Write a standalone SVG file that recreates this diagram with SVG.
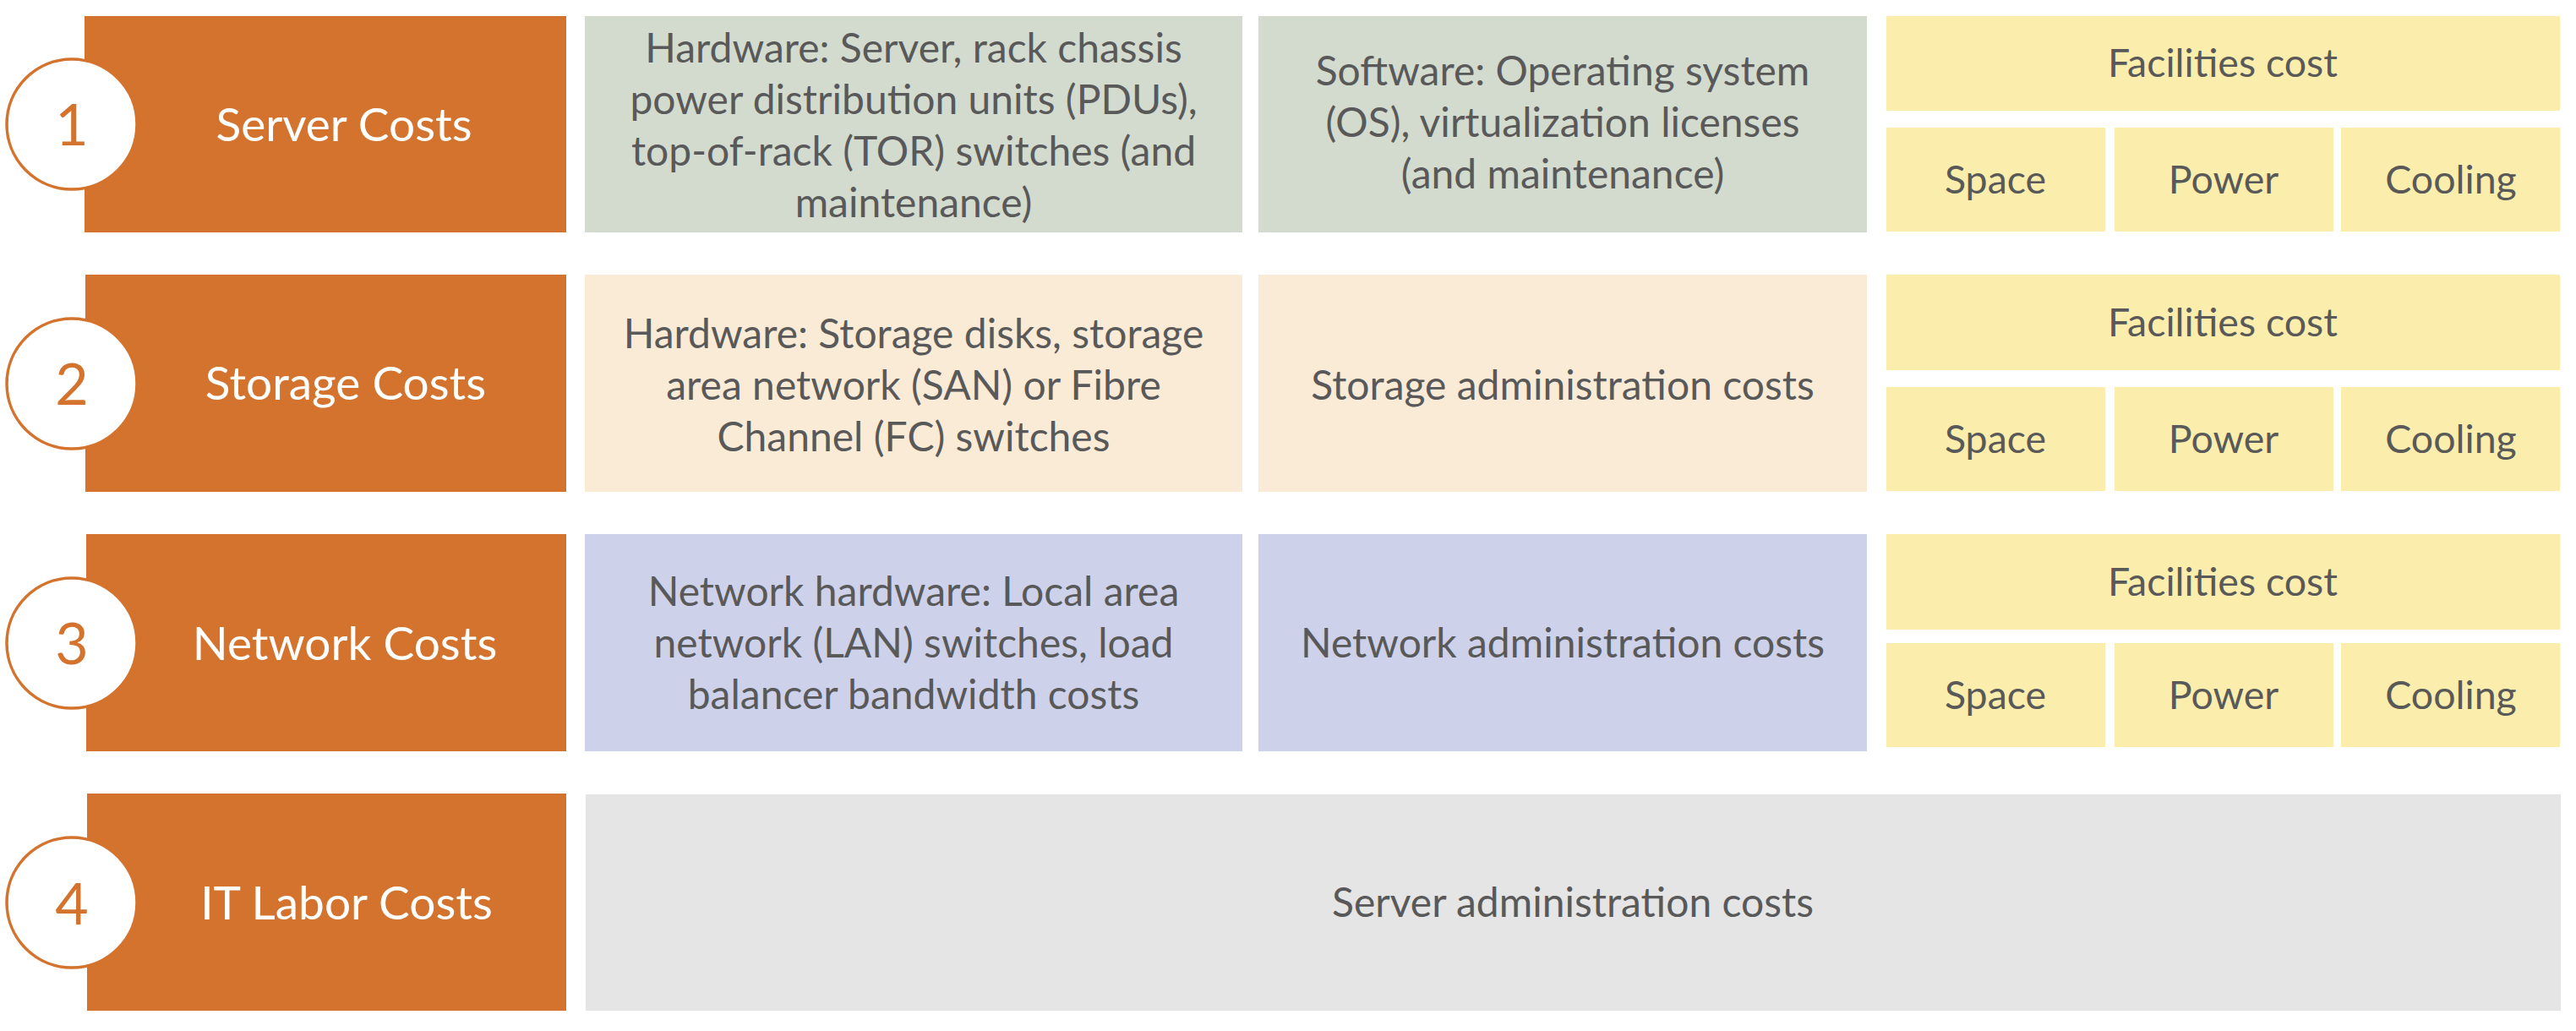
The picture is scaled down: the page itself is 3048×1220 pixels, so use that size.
<svg xmlns="http://www.w3.org/2000/svg" width="3048" height="1220" viewBox="0 0 3048 1220">
  <style>
    .cat { fill: #D4732D; }
    .badge { fill: #FFFFFF; stroke: #D4732D; stroke-width: 3.5; }
    .num { font-family: Lato, "Open Sans", sans-serif; font-size: 68px; fill: #D4732D; text-anchor: middle; }
    .label { font-family: Lato, "Open Sans", sans-serif; font-size: 55px; fill: #FFFFFF; text-anchor: middle; }
    .txt { font-family: Lato, "Open Sans", sans-serif; font-size: 48px; fill: #595959; text-anchor: middle; }
    .fac { font-family: Lato, "Open Sans", sans-serif; font-size: 46.5px; fill: #595959; text-anchor: middle; }
    .green { fill: #D3DBCF; }
    .peach { fill: #FAEBD7; }
    .lav { fill: #CDD2EA; }
    .yellow { fill: #FBEDAB; }
    .grey { fill: #E5E5E5; }
  </style>

  <!-- Row 1: server costs -->
  <g id="server-costs">
    <rect class="cat" x="100" y="19" width="570" height="256"/>
    <circle class="badge" cx="85" cy="147" r="77"/>
    <text class="num" x="85" y="172">1</text>
    <text class="label" x="407" y="167">Server Costs</text>
  </g>
  <g id="server-hardware">
    <rect class="green" x="692" y="19" width="778" height="256"/>
    <text class="txt" x="1081" y="74">Hardware: Server, rack chassis</text>
    <text class="txt" x="1081" y="135">power distribution units (PDUs),</text>
    <text class="txt" x="1081" y="196">top-of-rack (TOR) switches (and</text>
    <text class="txt" x="1081" y="257">maintenance)</text>
  </g>
  <g id="server-software">
    <rect class="green" x="1489" y="19" width="720" height="256"/>
    <text class="txt" x="1849" y="101">Software: Operating system</text>
    <text class="txt" x="1849" y="162">(OS), virtualization licenses</text>
    <text class="txt" x="1849" y="223">(and maintenance)</text>
  </g>
  <g id="server-facilities">
    <rect class="yellow" x="2232" y="19" width="797" height="112"/>
    <text class="fac" x="2630" y="91">Facilities cost</text>
    <rect class="yellow" x="2232" y="151" width="259" height="123"/>
    <text class="fac" x="2361" y="229">Space</text>
    <rect class="yellow" x="2502" y="151" width="259" height="123"/>
    <text class="fac" x="2631" y="229">Power</text>
    <rect class="yellow" x="2770" y="151" width="259" height="123"/>
    <text class="fac" x="2900" y="229">Cooling</text>
  </g>

  <!-- Row 2: storage costs -->
  <g id="storage-costs">
    <rect class="cat" x="101" y="325" width="569" height="257"/>
    <circle class="badge" cx="85" cy="454" r="77"/>
    <text class="num" x="85" y="479">2</text>
    <text class="label" x="409" y="473">Storage Costs</text>
  </g>
  <g id="storage-hardware">
    <rect class="peach" x="692" y="325" width="778" height="257"/>
    <text class="txt" x="1081" y="412">Hardware: Storage disks, storage</text>
    <text class="txt" x="1081" y="473">area network (SAN) or Fibre</text>
    <text class="txt" x="1081" y="534">Channel (FC) switches</text>
  </g>
  <g id="storage-admin">
    <rect class="peach" x="1489" y="325" width="720" height="257"/>
    <text class="txt" x="1849" y="473">Storage administration costs</text>
  </g>
  <g id="storage-facilities">
    <rect class="yellow" x="2232" y="325" width="797" height="113"/>
    <text class="fac" x="2630" y="398">Facilities cost</text>
    <rect class="yellow" x="2232" y="458" width="259" height="123"/>
    <text class="fac" x="2361" y="536">Space</text>
    <rect class="yellow" x="2502" y="458" width="259" height="123"/>
    <text class="fac" x="2631" y="536">Power</text>
    <rect class="yellow" x="2770" y="458" width="259" height="123"/>
    <text class="fac" x="2900" y="536">Cooling</text>
  </g>

  <!-- Row 3: network costs -->
  <g id="network-costs">
    <rect class="cat" x="102" y="632" width="568" height="257"/>
    <circle class="badge" cx="85" cy="761" r="77"/>
    <text class="num" x="85" y="786">3</text>
    <text class="label" x="408" y="781">Network Costs</text>
  </g>
  <g id="network-hardware">
    <rect class="lav" x="692" y="632" width="778" height="257"/>
    <text class="txt" x="1081" y="717">Network hardware: Local area</text>
    <text class="txt" x="1081" y="778">network (LAN) switches, load</text>
    <text class="txt" x="1081" y="839">balancer bandwidth costs</text>
  </g>
  <g id="network-admin">
    <rect class="lav" x="1489" y="632" width="720" height="257"/>
    <text class="txt" x="1849" y="778">Network administration costs</text>
  </g>
  <g id="network-facilities">
    <rect class="yellow" x="2232" y="632" width="797" height="113"/>
    <text class="fac" x="2630" y="705">Facilities cost</text>
    <rect class="yellow" x="2232" y="761" width="259" height="123"/>
    <text class="fac" x="2361" y="839">Space</text>
    <rect class="yellow" x="2502" y="761" width="259" height="123"/>
    <text class="fac" x="2631" y="839">Power</text>
    <rect class="yellow" x="2770" y="761" width="259" height="123"/>
    <text class="fac" x="2900" y="839">Cooling</text>
  </g>

  <!-- Row 4: IT labor costs -->
  <g id="labor-costs">
    <rect class="cat" x="103" y="939" width="567" height="257"/>
    <circle class="badge" cx="85" cy="1068" r="77"/>
    <text class="num" x="85" y="1094">4</text>
    <text class="label" x="410" y="1088">IT Labor Costs</text>
  </g>
  <g id="labor-admin">
    <rect class="grey" x="693" y="940" width="2337" height="256"/>
    <text class="txt" x="1861" y="1085">Server administration costs</text>
  </g>
</svg>
